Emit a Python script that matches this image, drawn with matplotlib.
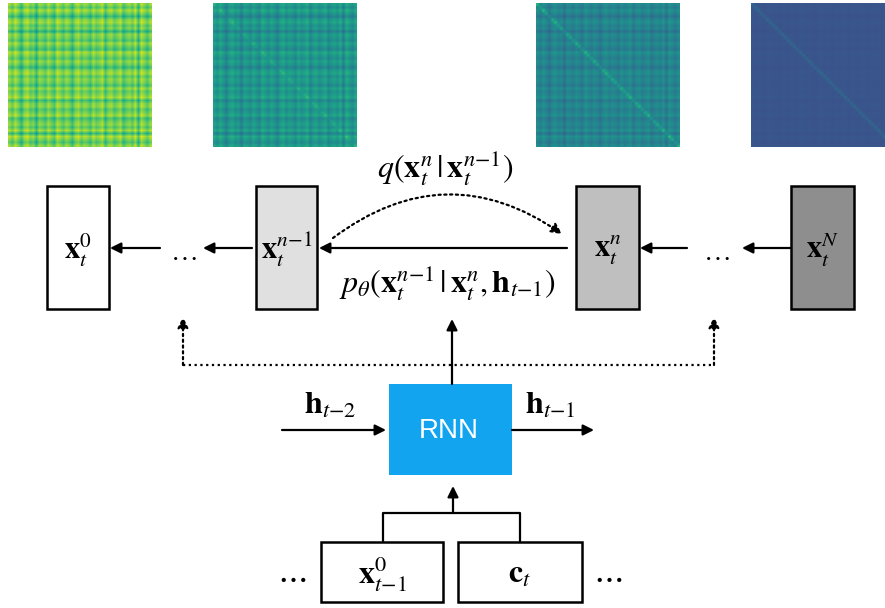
import numpy as np
import matplotlib
matplotlib.use("Agg")
import matplotlib.pyplot as plt
from matplotlib.patches import Rectangle

plt.rcParams['mathtext.fontset'] = 'stix'
plt.rcParams['font.family'] = ['DejaVu Sans']

# stripe strengths shared by the covariance snapshots (rows == columns)
stripes = [0.6, -0.2, 0.9, 0.1, -0.9, 0.4, 0.8, -0.1, 0.3, -1.0, 0.5, 0.2,
           -0.4, 0.7, 0.0, -0.6, 0.9, 0.3, -0.3, 0.6, 0.1, -0.8, 0.4, 0.8,
           -0.2, 0.5, 0.2, -0.5, 0.7, -0.1, 0.3, 0.9, -0.7, 0.4, 0.6, -0.3,
           0.2, 0.8, -0.6, 0.1, 0.5, -0.2, 0.9, -0.9, 1.0, 0.3, -0.4, 0.6]
# level, stripe contrast and extra diagonal value for steps 0, n-1, n, N
snap_level = [0.74, 0.50, 0.43, 0.26]
snap_spread = [0.22, 0.16, 0.12, 0.015]
snap_diag = [0.0, 0.06, 0.14, 0.08]

box_labels = [r'$\mathbf{x}_t^0$', r'$\mathbf{x}_t^{n{-}1}$', r'$\mathbf{x}_t^n$', r'$\mathbf{x}_t^N$']
box_fill = ['white', '#e0e0e0', '#bfbfbf', '#8e8e8e']
q_label = r'$q(\mathbf{x}_t^n\,|\,\mathbf{x}_t^{n{-}1})$'
p_label = r'$p_\theta(\mathbf{x}_t^{n{-}1}\,|\,\mathbf{x}_t^n,\mathbf{h}_{t{-}1})$'

fig = plt.figure(figsize=(8.85, 6.08), dpi=100)
ax = fig.add_axes([0, 0, 1, 1])
ax.axis('off')

# heatmaps along the top
s = np.array(stripes)
snap_x = [8, 213, 536, 751]
for k in range(4):
    m = snap_level[k] + snap_spread[k] * (s[:, None] + s[None, :]) / 2
    m[np.diag_indices_from(m)] += snap_diag[k]
    x0 = snap_x[k]
    ax.imshow(m, cmap='viridis', vmin=0, vmax=1, interpolation='bilinear',
              extent=(x0, x0 + 144, 147, 3), zorder=1)
ax.set_xlim(0, 885)
ax.set_ylim(608, 0)


def arrow(x1, y1, x2, y2, ls='-', **kw):
    ax.annotate('', xy=(x2, y2), xytext=(x1, y1),
                arrowprops=dict(arrowstyle='-|>', color='black', lw=1.6, ls=ls,
                                mutation_scale=16, shrinkA=0, shrinkB=0, **kw))


def box(x0, x1, y0, y1, fc, lw=1.8):
    ax.add_patch(Rectangle((x0, y0), x1 - x0, y1 - y0, fc=fc, ec='black', lw=lw, zorder=2))


# diffusion chain
box_x = [(47, 109), (256, 317), (576, 639), (791, 854)]
for (x0, x1), fc, lab in zip(box_x, box_fill, box_labels):
    box(x0, x1, 186, 309, fc)
    ax.text((x0 + x1) / 2, 250, lab, ha='center', va='center', fontsize=22, zorder=3)

ya = 248
arrow(160, ya, 110, ya)
arrow(252, ya, 203, ya)
arrow(567, ya, 319, ya)
arrow(687, ya, 640, ya)
arrow(791, ya, 742, ya)
ax.text(183, 252, r'$\ldots$', ha='center', va='center', fontsize=20)
ax.text(716, 252, r'$\ldots$', ha='center', va='center', fontsize=20)

# forward noising curve
dots = (0, (1, 1.6))
ax.annotate('', xy=(562, 234), xytext=(333, 238),
            arrowprops=dict(arrowstyle='-|>', color='black', lw=1.6, ls=dots,
                            mutation_scale=16, shrinkA=0, shrinkB=0,
                            connectionstyle='arc3,rad=-0.36'))
ax.text(445, 168, q_label, ha='center', va='center', fontsize=23)
ax.text(447, 283, p_label, ha='center', va='center', fontsize=23)

# conditioning from the RNN state
ax.plot([183, 714], [365, 365], color='black', lw=1.6, ls=dots)
arrow(183, 365, 183, 317, ls=dots)
arrow(714, 365, 714, 317, ls=dots)
arrow(452, 384, 452, 319)

ax.add_patch(Rectangle((389, 384), 123, 91, fc='#12a4ef', ec='none', zorder=2))
ax.text(449, 431, 'RNN', ha='center', va='center', color='white', fontsize=20,
        family='Liberation Sans', zorder=3)

arrow(282, 430, 386, 430)
arrow(512, 430, 594, 430)
ax.text(330, 405, r'$\mathbf{h}_{t{-}2}$', ha='center', va='center', fontsize=23)
ax.text(550, 405, r'$\mathbf{h}_{t{-}1}$', ha='center', va='center', fontsize=23)

# inputs
ax.plot([383, 383, 520, 520], [542, 513, 513, 542], color='black', lw=1.6)
arrow(453, 513, 453, 486)
box(321, 443, 542, 602, 'white')
box(458, 582, 542, 602, 'white')
ax.text(382, 574, r'$\mathbf{x}_{t{-}1}^0$', ha='center', va='center', fontsize=23, zorder=3)
ax.text(520, 574, r'$\mathbf{c}_t$', ha='center', va='center', fontsize=23, zorder=3)
ax.text(292, 576, r'$\cdots$', ha='center', va='center', fontsize=24)
ax.text(608, 576, r'$\cdots$', ha='center', va='center', fontsize=24)

fig.savefig('out.png', dpi=100)
